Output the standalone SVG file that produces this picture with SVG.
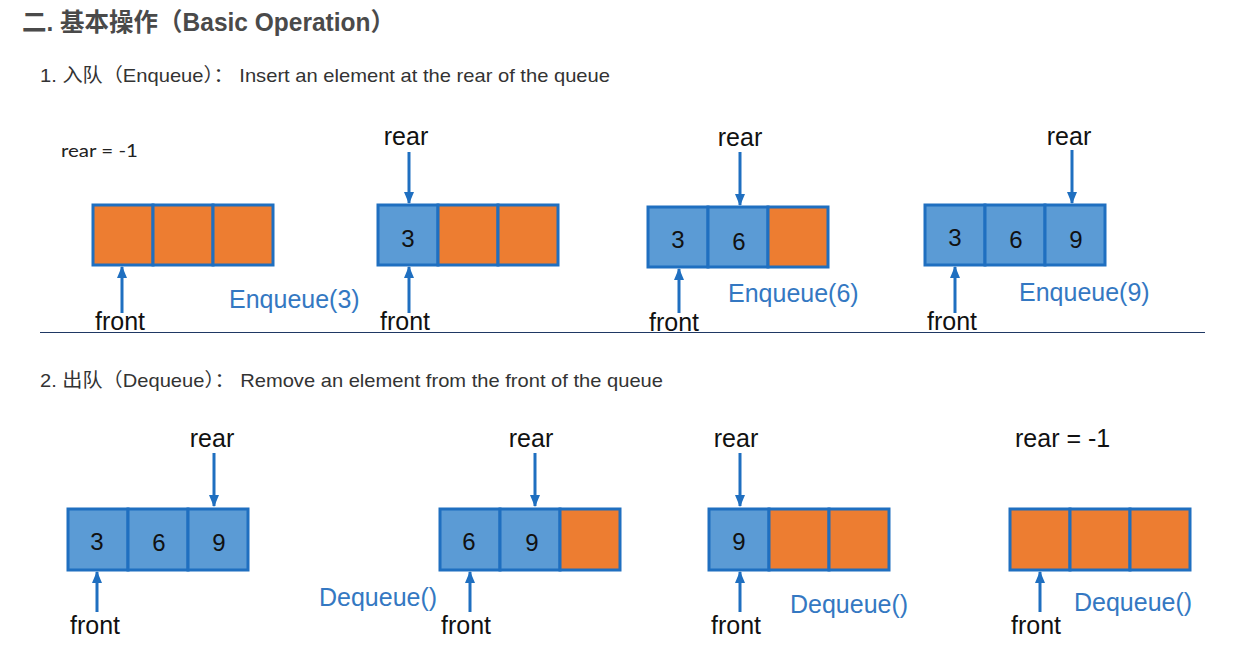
<svg xmlns="http://www.w3.org/2000/svg" width="1238" height="652" viewBox="0 0 1238 652">
<style>
.title{font-family:"Liberation Sans","Noto Sans CJK SC",sans-serif;font-size:25px;font-weight:bold;fill:#4a4a4a}
.sub{font-family:"Liberation Sans","Noto Sans CJK SC",sans-serif;font-size:19px;fill:#333}
.lbl{font-family:"Liberation Sans",Arial,sans-serif;font-size:25px;fill:#111}
.num{font-family:"Liberation Sans",Arial,sans-serif;font-size:24px;fill:#111;text-anchor:middle}
.op{font-family:"Liberation Sans",Arial,sans-serif;font-size:25px;fill:#3478c2}
.small{font-family:"Lato","Noto Sans",sans-serif;font-size:18px;fill:#222}
.e{fill:#ED7D31;stroke:#1f6fc0;stroke-width:3}
.f{fill:#5B9BD5;stroke:#1f6fc0;stroke-width:3}
.arr{stroke:#1f6fc0;stroke-width:3;fill:none;marker-end:url(#ah)}
.mid{text-anchor:middle}
</style>
<defs>
<marker id="ah" markerUnits="userSpaceOnUse" markerWidth="12" markerHeight="10" refX="11" refY="5" orient="auto">
<path d="M0,0 L12,5 L0,10 z" fill="#1f6fc0"/>
</marker>
</defs>
<rect width="1238" height="652" fill="#fff"/>
<text class="title" x="22" y="31" textLength="373" lengthAdjust="spacingAndGlyphs">二. 基本操作（Basic Operation）</text>
<text class="sub" x="40" y="82" textLength="570" lengthAdjust="spacingAndGlyphs">1. 入队（Enqueue）： Insert an element at the rear of the queue</text>
<line x1="40" y1="332.5" x2="1205" y2="332.5" stroke="#1f3864" stroke-width="1.2"/>
<text class="sub" x="40" y="387" textLength="623" lengthAdjust="spacingAndGlyphs">2. 出队（Dequeue）： Remove an element from the front of the queue</text>

<g id="q1">
<rect class="e" x="93" y="205" width="60" height="60"/><rect class="e" x="153" y="205" width="60" height="60"/><rect class="e" x="213" y="205" width="60" height="60"/>
<text class="small" x="61" y="157" textLength="77" lengthAdjust="spacingAndGlyphs">rear = -1</text>
<text class="lbl" x="95" y="330">front</text>
<text class="op" x="229" y="308">Enqueue(3)</text>
</g>
<g id="q2">
<rect class="f" x="378" y="205" width="60" height="60"/><rect class="e" x="438" y="205" width="60" height="60"/><rect class="e" x="498" y="205" width="60" height="60"/>
<text class="num" x="408" y="247">3</text>
<text class="lbl mid" x="406" y="145">rear</text>
<text class="lbl" x="380" y="330">front</text>
</g>
<g id="q3">
<rect class="f" x="648" y="207" width="60" height="60"/><rect class="f" x="708" y="207" width="60" height="60"/><rect class="e" x="768" y="207" width="60" height="60"/>
<text class="num" x="678" y="248">3</text><text class="num" x="739" y="250">6</text>
<text class="lbl mid" x="740" y="146">rear</text>
<text class="lbl" x="649" y="331">front</text>
<text class="op" x="728" y="302">Enqueue(6)</text>
</g>
<g id="q4">
<rect class="f" x="925" y="205" width="60" height="60"/><rect class="f" x="985" y="205" width="60" height="60"/><rect class="f" x="1045" y="205" width="60" height="60"/>
<text class="num" x="955" y="246">3</text><text class="num" x="1016" y="248">6</text><text class="num" x="1076" y="248">9</text>
<text class="lbl mid" x="1069" y="145">rear</text>
<text class="lbl" x="927" y="330">front</text>
<text class="op" x="1019" y="301">Enqueue(9)</text>
</g>
<g id="q5">
<rect class="f" x="68" y="509" width="60" height="61"/><rect class="f" x="128" y="509" width="60" height="61"/><rect class="f" x="188" y="509" width="60" height="61"/>
<text class="num" x="97" y="550">3</text><text class="num" x="159" y="551">6</text><text class="num" x="219" y="551">9</text>
<text class="lbl mid" x="212" y="447">rear</text>
<text class="lbl" x="70" y="634">front</text>
</g>
<g id="q6">
<rect class="f" x="440" y="509" width="60" height="61"/><rect class="f" x="500" y="509" width="60" height="61"/><rect class="e" x="560" y="509" width="60" height="61"/>
<text class="num" x="469" y="550">6</text><text class="num" x="532" y="551">9</text>
<text class="lbl mid" x="531" y="447">rear</text>
<text class="lbl" x="441" y="634">front</text>
<text class="op" x="319" y="606">Dequeue()</text>
</g>
<g id="q7">
<rect class="f" x="709" y="509" width="60" height="61"/><rect class="e" x="769" y="509" width="60" height="61"/><rect class="e" x="829" y="509" width="60" height="61"/>
<text class="num" x="739" y="550">9</text>
<text class="lbl mid" x="736" y="447">rear</text>
<text class="lbl" x="711" y="634">front</text>
<text class="op" x="790" y="613">Dequeue()</text>
</g>
<g id="q8">
<rect class="e" x="1010" y="509" width="60" height="61"/><rect class="e" x="1070" y="509" width="60" height="61"/><rect class="e" x="1130" y="509" width="60" height="61"/>
<text class="lbl" x="1015" y="447">rear = -1</text>
<text class="lbl" x="1011" y="634">front</text>
<text class="op" x="1074" y="611">Dequeue()</text>
</g>

<g id="connectors">
<line class="arr" x1="122" y1="313" x2="122" y2="267"/>
<line class="arr" x1="409" y1="152" x2="409" y2="203"/>
<line class="arr" x1="409" y1="313" x2="409" y2="267"/>
<line class="arr" x1="740" y1="152" x2="740" y2="205"/>
<line class="arr" x1="679" y1="313" x2="679" y2="269"/>
<line class="arr" x1="1072" y1="150" x2="1072" y2="203"/>
<line class="arr" x1="955" y1="313" x2="955" y2="267"/>
<line class="arr" x1="214" y1="453" x2="214" y2="506"/>
<line class="arr" x1="97" y1="612" x2="97" y2="572"/>
<line class="arr" x1="535" y1="453" x2="535" y2="506"/>
<line class="arr" x1="470" y1="612" x2="470" y2="572"/>
<line class="arr" x1="740" y1="453" x2="740" y2="506"/>
<line class="arr" x1="740" y1="612" x2="740" y2="572"/>
<line class="arr" x1="1040" y1="612" x2="1040" y2="572"/>
</g>
</svg>
